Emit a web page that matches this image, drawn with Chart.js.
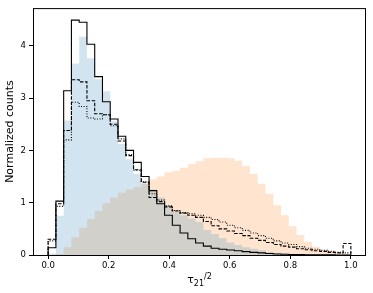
<!DOCTYPE html>
<html>
<head>
<meta charset="utf-8">
<script src="https://cdn.jsdelivr.net/npm/chart.js@4.4.1/dist/chart.umd.min.js"></script>
<style>
  html, body { margin: 0; padding: 0; background: #fff; }
  #wrap { width: 373px; height: 293px; }
</style>
</head>
<body>
<div id="wrap"><canvas id="histChart"></canvas></div>
<script>
// Histogram binning: 39 equal bins from 0 to 1
const binStart = 0.0;
const binEnd = 1.0;
const binCount = 39;

// Step outlines (normalized counts per bin)
const solidCounts = [
  0.14, 1.03, 3.14, 4.49, 4.45, 4.03, 3.41, 2.93, 2.60, 2.27,
  2.00, 1.77, 1.50, 1.23, 0.98, 0.76, 0.57, 0.42, 0.31, 0.23,
  0.17, 0.13, 0.11, 0.095, 0.08, 0.065, 0.05, 0.04, 0.03, 0.02,
  0.015, 0.01, 0.008, 0.006, 0.004, 0.003, 0.002, 0.001, 0
];
const dashedCounts = [
  0.30, 0.98, 2.38, 3.35, 3.31, 2.95, 2.70, 2.68, 2.50, 2.18,
  1.90, 1.63, 1.39, 1.10, 1.02, 0.92, 0.84, 0.80, 0.76, 0.72,
  0.64, 0.56, 0.50, 0.46, 0.41, 0.37, 0.32, 0.28, 0.24, 0.20,
  0.17, 0.15, 0.12, 0.10, 0.08, 0.07, 0.05, 0.04, 0.22
];
const dottedCounts = [
  0.27, 0.93, 2.20, 2.92, 2.84, 2.62, 2.60, 2.68, 2.47, 2.22,
  1.92, 1.62, 1.40, 1.17, 1.05, 0.94, 0.85, 0.81, 0.79, 0.76,
  0.72, 0.68, 0.63, 0.57, 0.52, 0.47, 0.42, 0.37, 0.32, 0.27,
  0.23, 0.20, 0.16, 0.13, 0.11, 0.09, 0.07, 0.05, 0.04
];

// Filled histograms
const blueCounts = [
  0.03, 0.75, 2.57, 3.66, 4.17, 3.76, 3.36, 3.13, 2.55, 2.12,
  1.83, 1.55, 1.36, 1.25, 1.10, 0.95, 0.82, 0.76, 0.70, 0.63,
  0.48, 0.40, 0.32, 0.24, 0.19, 0.15, 0.12, 0.09, 0.06, 0.045,
  0.03, 0.02, 0.015, 0.01, 0.008, 0.005, 0.003, 0.002, 0.001
];
const orangeCounts = [
  0, 0.02, 0.15, 0.34, 0.52, 0.69, 0.84, 0.99, 1.10, 1.19,
  1.25, 1.30, 1.38, 1.45, 1.50, 1.58, 1.61, 1.67, 1.74, 1.79,
  1.85, 1.86, 1.86, 1.85, 1.80, 1.70, 1.55, 1.36, 1.17, 0.95,
  0.76, 0.55, 0.38, 0.25, 0.16, 0.095, 0.06, 0.04, 0.02
];

const xTickValues = [0.0, 0.2, 0.4, 0.6, 0.8, 1.0];
const yTickValues = [0, 1, 2, 3, 4];

const FONT = "'DejaVu Sans', sans-serif";

function binEdge(i) {
  return binStart + ((binEnd - binStart) * i) / binCount;
}

// left edge of every bin, plus the right edge of the last one
function barPoints(counts) {
  const pts = counts.map((v, i) => ({ x: binEdge(i), y: v }));
  pts.push({ x: binEnd, y: counts[counts.length - 1] });
  return pts;
}

// outline also drops to zero at both ends (like histtype="step")
function stepPoints(counts) {
  return [{ x: binStart, y: 0 }, ...barPoints(counts), { x: binEnd, y: 0 }];
}

function stepLine(counts, dash, order) {
  return {
    data: stepPoints(counts),
    borderColor: "#000",
    borderWidth: 1.1,
    borderDash: dash,
    fill: false,
    stepped: true,
    pointRadius: 0,
    order: order,
  };
}

function filledHist(counts, color, order) {
  return {
    data: barPoints(counts),
    borderColor: "rgba(0,0,0,0)",
    borderWidth: 0,
    backgroundColor: color,
    fill: "origin",
    stepped: true,
    pointRadius: 0,
    order: order,
  };
}

// spines on all four sides plus the x label with sub/superscript
const framePlugin = {
  id: "frame",
  afterDraw(chart) {
    const { ctx, chartArea } = chart;
    const { left, top, right, bottom } = chartArea;
    ctx.save();
    ctx.strokeStyle = "#000";
    ctx.lineWidth = 1;
    ctx.strokeRect(left + 0.5, top + 0.5, right - left - 1, bottom - top);

    ctx.fillStyle = "#000";
    ctx.textBaseline = "alphabetic";
    const big = "11px " + FONT;
    const small = "8px " + FONT;
    ctx.font = big;
    const wTau = ctx.measureText("τ").width;
    ctx.font = small;
    const wSub = ctx.measureText("21").width;
    const wSup = ctx.measureText("/2").width;
    const total = wTau + wSub + wSup;
    let x = (left + right) / 2 - total / 2;
    const base = bottom + 28;
    ctx.font = big;
    ctx.fillText("τ", x, base);
    x += wTau;
    ctx.font = small;
    ctx.fillText("21", x, base + 2.5);
    x += wSub;
    ctx.fillText("/2", x, base - 4.5);
    ctx.restore();
  },
};

const ctx = document.getElementById("histChart").getContext("2d");

new Chart(ctx, {
  type: "line",
  data: {
    datasets: [
      stepLine(solidCounts, [], 0),
      stepLine(dashedCounts, [3.5, 1.6], 1),
      stepLine(dottedCounts, [1, 1.6], 2),
      filledHist(blueCounts, "rgba(31, 119, 180, 0.2)", 3),
      filledHist(orangeCounts, "rgba(255, 127, 14, 0.2)", 4),
    ],
  },
  options: {
    responsive: true,
    maintainAspectRatio: false,
    animation: false,
    devicePixelRatio: 1,
    layout: { padding: { top: 6, right: 7, left: 0, bottom: 0 } },
    plugins: {
      legend: { display: false },
      tooltip: { enabled: false },
    },
    scales: {
      x: {
        type: "linear",
        min: -0.05,
        max: 1.05,
        afterBuildTicks: (s) => {
          s.ticks = xTickValues.map((v) => ({ value: v }));
        },
        afterFit: (s) => {
          s.height = 38;
        },
        ticks: {
          callback: (v) => Number(v).toFixed(1),
          font: { family: FONT, size: 8.5 },
          color: "#000",
          padding: 2,
          maxRotation: 0,
          autoSkip: false,
        },
        grid: {
          drawOnChartArea: false,
          drawTicks: true,
          tickLength: 4,
          tickColor: "#000",
          tickWidth: 1,
        },
        border: { display: false },
      },
      y: {
        min: 0,
        max: 4.72,
        afterBuildTicks: (s) => {
          s.ticks = yTickValues.map((v) => ({ value: v }));
        },
        afterFit: (s) => {
          s.width = 33;
        },
        ticks: {
          callback: (v) => String(v),
          font: { family: FONT, size: 8.5 },
          color: "#000",
          padding: 3,
        },
        grid: {
          drawOnChartArea: false,
          drawTicks: true,
          tickLength: 4,
          tickColor: "#000",
          tickWidth: 1,
        },
        border: { display: false },
        title: {
          display: true,
          text: "Normalized counts",
          color: "#000",
          font: { family: FONT, size: 11 },
          padding: { top: 4, bottom: 0 },
        },
      },
    },
  },
  plugins: [framePlugin],
});
</script>
</body>
</html>
